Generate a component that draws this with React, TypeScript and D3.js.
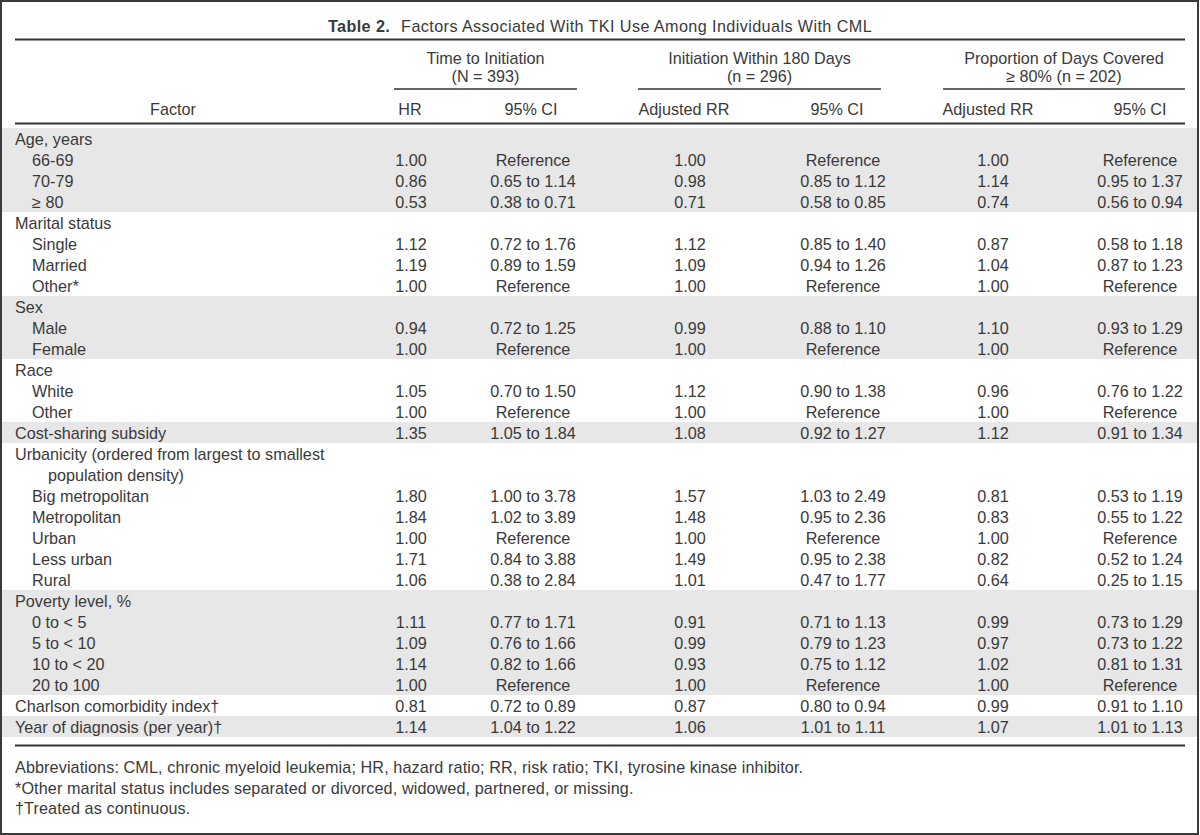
import React from "react";
import * as d3 from "d3";

// ---------- data ----------
const titleBold = "Table 2.";
const titleText = "Factors Associated With TKI Use Among Individuals With CML";

const spannerLabels: [string, string][] = [
  ["Time to Initiation", "(N = 393)"],
  ["Initiation Within 180 Days", "(n = 296)"],
  ["Proportion of Days Covered", "\u2265 80% (n = 202)"],
];
const columnHeaders = ["HR", "95% CI", "Adjusted RR", "95% CI", "Adjusted RR", "95% CI"];

const factorLabels = [
  "Age, years", "66-69", "70-79", "\u2265 80",
  "Marital status", "Single", "Married", "Other*",
  "Sex", "Male", "Female",
  "Race", "White", "Other",
  "Cost-sharing subsidy",
  "Urbanicity (ordered from largest to smallest", "population density)",
  "Big metropolitan", "Metropolitan", "Urban", "Less urban", "Rural",
  "Poverty level, %", "0 to < 5", "5 to < 10", "10 to < 20", "20 to 100",
  "Charlson comorbidity index\u2020", "Year of diagnosis (per year)\u2020",
];
const factorIndent = [
  0, 1, 1, 1,
  0, 1, 1, 1,
  0, 1, 1,
  0, 1, 1,
  0,
  0, 2,
  1, 1, 1, 1, 1,
  0, 1, 1, 1, 1,
  0, 0,
];
const R = "Reference";
const hr = ["", "1.00", "0.86", "0.53", "", "1.12", "1.19", "1.00", "", "0.94", "1.00", "", "1.05", "1.00", "1.35", "", "", "1.80", "1.84", "1.00", "1.71", "1.06", "", "1.11", "1.09", "1.14", "1.00", "0.81", "1.14"];
const hrCI = ["", R, "0.65 to 1.14", "0.38 to 0.71", "", "0.72 to 1.76", "0.89 to 1.59", R, "", "0.72 to 1.25", R, "", "0.70 to 1.50", R, "1.05 to 1.84", "", "", "1.00 to 3.78", "1.02 to 3.89", R, "0.84 to 3.88", "0.38 to 2.84", "", "0.77 to 1.71", "0.76 to 1.66", "0.82 to 1.66", R, "0.72 to 0.89", "1.04 to 1.22"];
const rr180 = ["", "1.00", "0.98", "0.71", "", "1.12", "1.09", "1.00", "", "0.99", "1.00", "", "1.12", "1.00", "1.08", "", "", "1.57", "1.48", "1.00", "1.49", "1.01", "", "0.91", "0.99", "0.93", "1.00", "0.87", "1.06"];
const rr180CI = ["", R, "0.85 to 1.12", "0.58 to 0.85", "", "0.85 to 1.40", "0.94 to 1.26", R, "", "0.88 to 1.10", R, "", "0.90 to 1.38", R, "0.92 to 1.27", "", "", "1.03 to 2.49", "0.95 to 2.36", R, "0.95 to 2.38", "0.47 to 1.77", "", "0.71 to 1.13", "0.79 to 1.23", "0.75 to 1.12", R, "0.80 to 0.94", "1.01 to 1.11"];
const rrPdc = ["", "1.00", "1.14", "0.74", "", "0.87", "1.04", "1.00", "", "1.10", "1.00", "", "0.96", "1.00", "1.12", "", "", "0.81", "0.83", "1.00", "0.82", "0.64", "", "0.99", "0.97", "1.02", "1.00", "0.99", "1.07"];
const rrPdcCI = ["", R, "0.95 to 1.37", "0.56 to 0.94", "", "0.58 to 1.18", "0.87 to 1.23", R, "", "0.93 to 1.29", R, "", "0.76 to 1.22", R, "0.91 to 1.34", "", "", "0.53 to 1.19", "0.55 to 1.22", R, "0.52 to 1.24", "0.25 to 1.15", "", "0.73 to 1.29", "0.73 to 1.22", "0.81 to 1.31", R, "0.91 to 1.10", "1.01 to 1.13"];
// shaded row ranges [first, last]
const shadedGroups: [number, number][] = [[0, 3], [8, 10], [14, 14], [22, 26], [28, 28]];

const footnotes = [
  "Abbreviations: CML, chronic myeloid leukemia; HR, hazard ratio; RR, risk ratio; TKI, tyrosine kinase inhibitor.",
  "*Other marital status includes separated or divorced, widowed, partnered, or missing.",
  "\u2020Treated as continuous.",
];

// ---------- layout ----------
const W = 1200;
const H = 835;
const FONT = "'Liberation Sans', Arial, sans-serif";
const FS = 16.2;
const TEXT = "#3a3a3a";
const RULE = "#333";
const BAND = "#e7e7e7";

const colKeys = ["hr", "hrCI", "rr180", "rr180CI", "rrPdc", "rrPdcCI"];
const colValues = [hr, hrCI, rr180, rr180CI, rrPdc, rrPdcCI];
const xData = d3.scaleOrdinal<string, number>().domain(colKeys).range([411, 533, 690, 843, 993, 1140]);
const xHead = d3.scaleOrdinal<string, number>().domain(colKeys).range([410, 531, 684, 837, 988, 1140]);
const spanX: [number, number][] = [[394, 577], [638, 881], [943, 1185]];

const rowY = d3.scaleLinear().domain([0, factorLabels.length]).range([128, 128 + factorLabels.length * 21]);
const indentX = d3.scaleOrdinal<number, number>().domain([0, 1, 2]).range([15, 32, 48]);

export default function App() {
  const n = factorLabels.length;
  return (
    <div style={{ position: "fixed", left: 0, top: 0, width: W, height: H, background: "#fff" }}>
      <svg width={W} height={H} style={{ display: "block" }} fontFamily={FONT} fontSize={FS} fill={TEXT}>
        <rect x={0} y={0} width={W} height={H} fill="#fff" />
        {/* bands */}
        {shadedGroups.map(([a, b], i) => (
          <rect key={i} x={2} y={rowY(a)} width={W - 4} height={rowY(b + 1) - rowY(a)} fill={BAND} />
        ))}
        {/* title */}
        <text x={600} y={32} textAnchor="middle" letterSpacing={0.4}>
          <tspan fontWeight="bold">{titleBold}</tspan>
          <tspan dx={6}>{" " + titleText}</tspan>
        </text>
        <line x1={15} x2={1185} y1={39.5} y2={39.5} stroke={RULE} strokeWidth={2} />
        {/* spanners */}
        {spannerLabels.map((s, i) => {
          const [x1, x2] = spanX[i];
          const cx = (x1 + x2) / 2;
          return (
            <g key={i}>
              <text x={cx} y={64} textAnchor="middle">{s[0]}</text>
              <text x={cx} y={82} textAnchor="middle">{s[1]}</text>
              <line x1={x1} x2={x2} y1={89} y2={89} stroke={RULE} strokeWidth={1.6} />
            </g>
          );
        })}
        <text x={173} y={115} textAnchor="middle">Factor</text>
        {colKeys.map((k, i) => (
          <text key={k} x={xHead(k)} y={115} textAnchor="middle">{columnHeaders[i]}</text>
        ))}
        <line x1={15} x2={1185} y1={123.5} y2={123.5} stroke={RULE} strokeWidth={2} />
        {/* rows */}
        {factorLabels.map((lab, i) => (
          <g key={i}>
            <text x={indentX(factorIndent[i])} y={rowY(i) + 17}>{lab}</text>
            {colKeys.map((k, j) => (
              <text key={k} x={xData(k)} y={rowY(i) + 17} textAnchor="middle">{colValues[j][i]}</text>
            ))}
          </g>
        ))}
        <line x1={15} x2={1185} y1={rowY(n) + 8.5} y2={rowY(n) + 8.5} stroke={RULE} strokeWidth={2} />
        {/* footnotes */}
        {footnotes.map((f, i) => (
          <text key={i} x={15} y={773 + i * 20.5} letterSpacing={0.1}>{f}</text>
        ))}
        {/* outer border */}
        <rect x={1} y={1} width={W - 3} height={H - 2} fill="none" stroke="#3a3a3a" strokeWidth={2} />
      </svg>
    </div>
  );
}
